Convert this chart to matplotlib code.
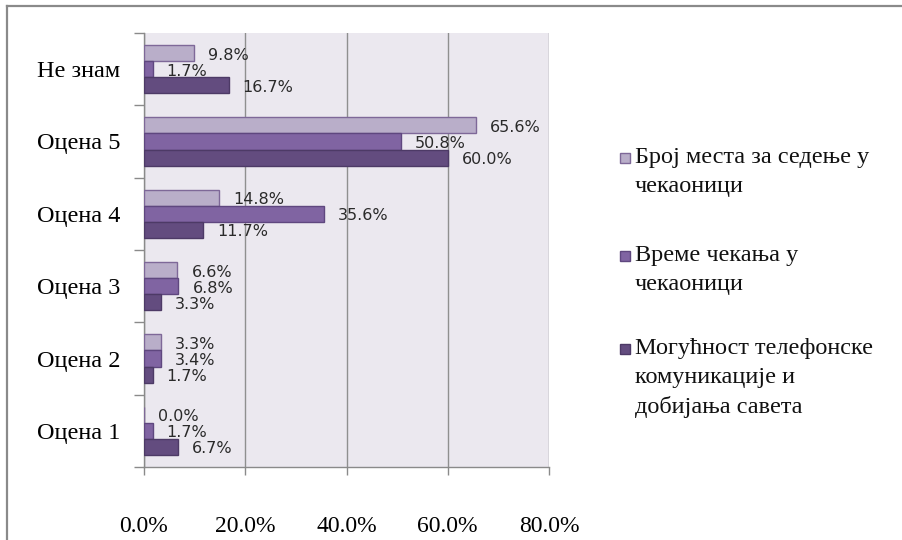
import numpy as np
import matplotlib
matplotlib.use("Agg")
import matplotlib.pyplot as plt
from matplotlib.lines import Line2D
from matplotlib.patches import Rectangle

# categories bottom -> top
categories = ["Оцена 1", "Оцена 2", "Оцена 3", "Оцена 4", "Оцена 5", "Не знам"]

series_names = [
    "Број места за седење у\nчекаоници",
    "Време чекања у\nчекаоници",
    "Могућност телефонске\nкомуникације и\nдобијања савета",
]
seats = [0.0, 3.3, 6.6, 14.8, 65.6, 9.8]
waiting = [1.7, 3.4, 6.8, 35.6, 50.8, 1.7]
phone = [6.7, 1.7, 3.3, 11.7, 60.0, 16.7]

x_ticks = [0, 20, 40, 60, 80]

face_colors = ["#B9AEC9", "#8064A2", "#634C7F"]
edge_colors = ["#7E6898", "#5F477F", "#4D3A66"]

SERIF = "Liberation Serif"

fig = plt.figure(figsize=(9.02, 5.40), dpi=100)
fig.patch.set_facecolor("white")

# outer frame (left and top edges only are visible)
fig.add_artist(Line2D([7 / 902, 7 / 902], [0, 1 - 6 / 540], transform=fig.transFigure,
                      color="#8a8a8a", linewidth=1.6))
fig.add_artist(Line2D([7 / 902, 1], [1 - 6 / 540, 1 - 6 / 540], transform=fig.transFigure,
                      color="#8a8a8a", linewidth=1.6))

ax = fig.add_axes([144 / 902, 1 - 467 / 540, 405 / 902, 434 / 540])
ax.set_facecolor("#EBE8EF")

y = np.arange(len(categories))
bar_h = 0.222
offsets = [bar_h, 0, -bar_h]

for vals, off, fc, ec in zip([seats, waiting, phone], offsets, face_colors, edge_colors):
    ax.barh(y + off, vals, height=bar_h, color=fc, edgecolor=ec, linewidth=1.0, zorder=3)
    for yi, v in zip(y, vals):
        ax.annotate(f"{v:.1f}%", (v, yi + off), xytext=(14, -2), textcoords="offset pixels",
                    ha="left", va="center", fontsize=11.5, color="#2a2a2a",
                    family="DejaVu Sans", zorder=5)

ax.set_xlim(0, 80)
ax.set_ylim(-0.5, len(categories) - 0.5)

ax.set_xticks(x_ticks)
ax.set_xticklabels([f"{t:.1f}%" for t in x_ticks], fontsize=17, family=SERIF)
ax.set_yticks(y)
ax.set_yticklabels(categories, fontsize=17.5, family=SERIF)
ax.set_yticks(np.arange(-0.5, len(categories), 1.0), minor=True)

ax.tick_params(axis="x", which="major", length=6, width=1, color="#8a8a8a", pad=29)
ax.tick_params(axis="y", which="major", length=0, pad=17)
ax.tick_params(axis="y", which="minor", length=7, width=1, color="#8a8a8a")

ax.grid(axis="x", color="#8f8f8f", linewidth=1.0, zorder=0)
ax.set_axisbelow(True)
for side in ["top", "right"]:
    ax.spines[side].set_visible(False)
for side in ["left", "bottom"]:
    ax.spines[side].set_color("#8a8a8a")
    ax.spines[side].set_linewidth(1.0)

# legend drawn by hand so the marker sits on the first text line
legend_tops = [147, 245, 338]
for name, top, fc, ec in zip(series_names, legend_tops, face_colors, edge_colors):
    fig.add_artist(Rectangle((620 / 902, 1 - (top + 16) / 540), 10 / 902, 10 / 540,
                             transform=fig.transFigure, facecolor=fc, edgecolor=ec,
                             linewidth=1.0))
    fig.text(635 / 902, 1 - top / 540, name, ha="left", va="top", fontsize=17.5,
             family=SERIF, color="#111111", linespacing=1.5)

fig.savefig("out.png", dpi=100)
